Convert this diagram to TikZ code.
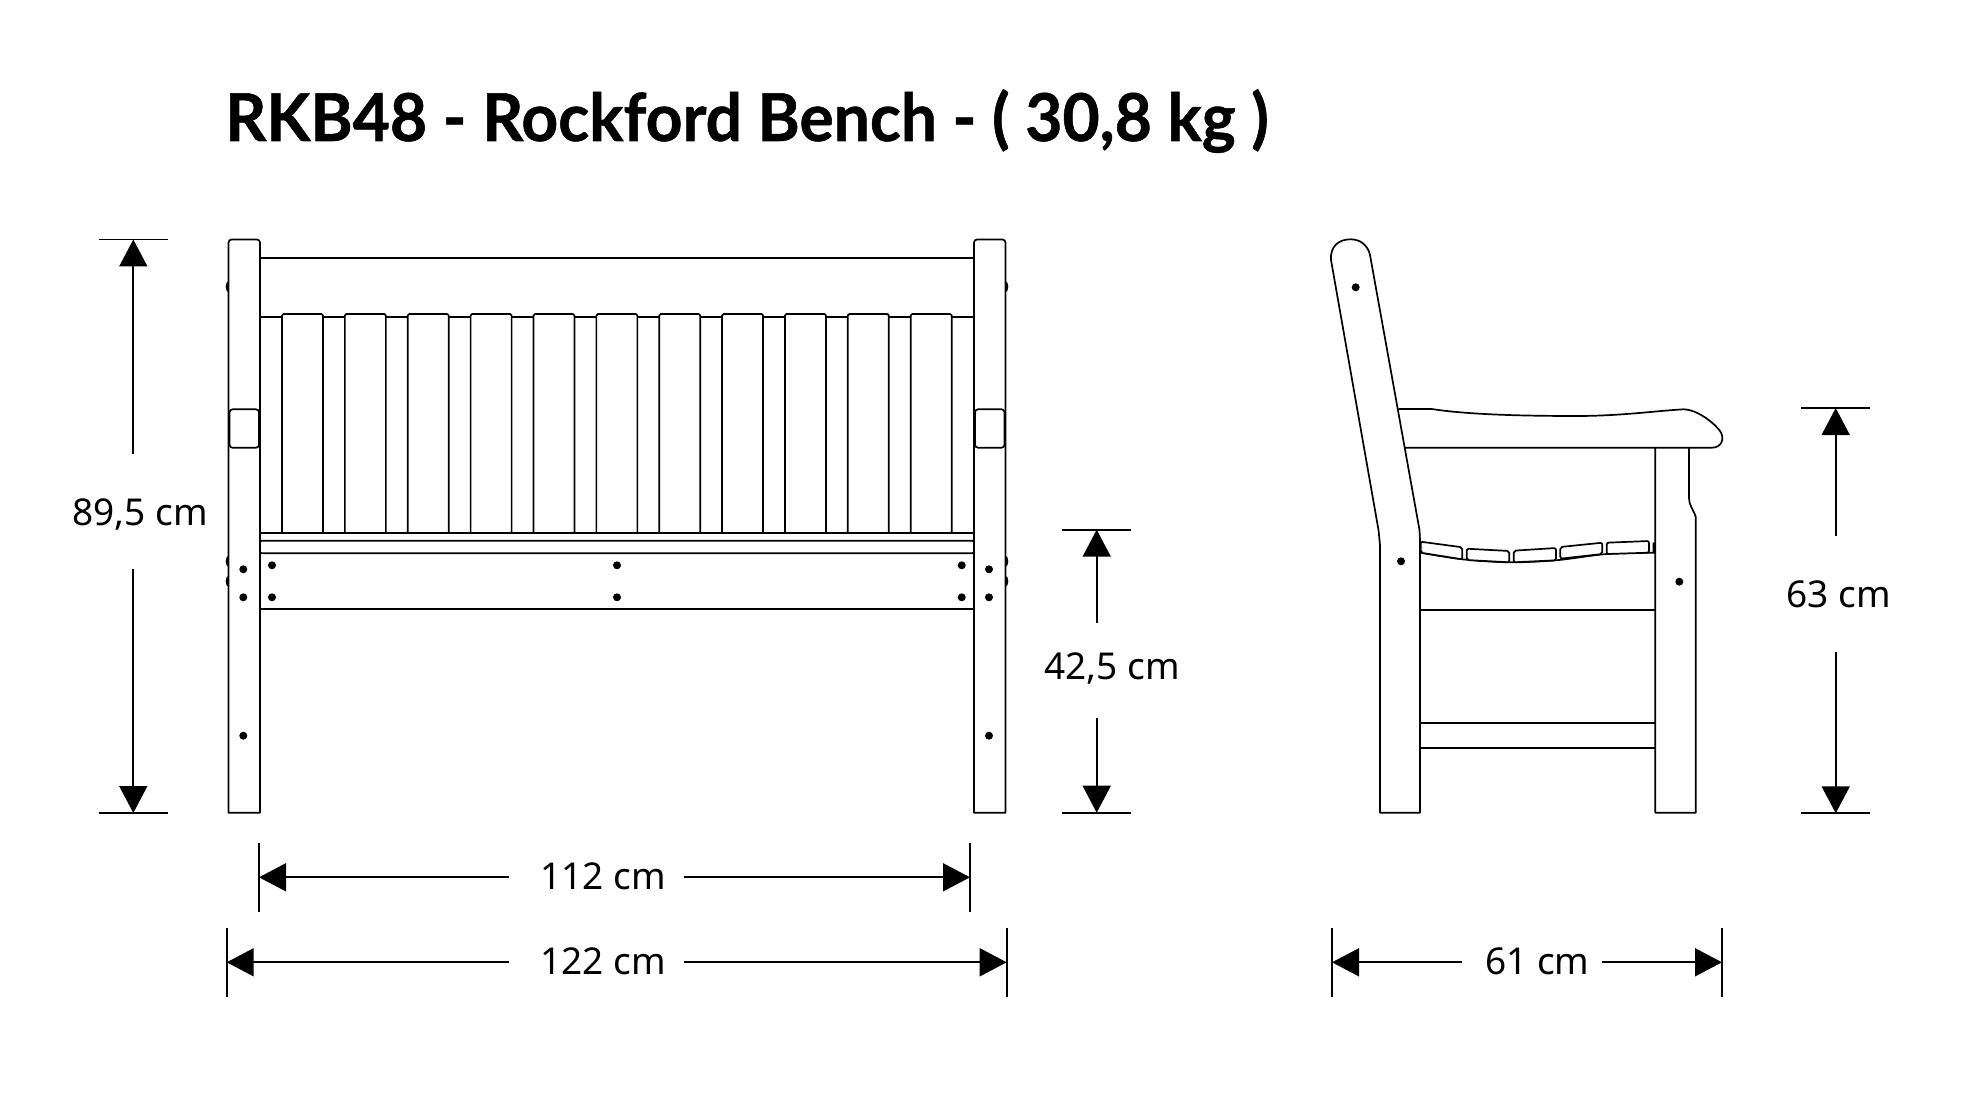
\documentclass[tikz,border=0pt]{standalone}
\usepackage{fontspec}
\setmainfont{Noto Sans}
\newfontfamily\titlefont{Lato}[FakeStretch=0.972,BoldFeatures={FakeBold=0.8}]
\usetikzlibrary{arrows.meta}
\tikzset{
    bench/.style={line width=1.7pt,black,line join=round},
    bolt/.style={fill=black},
    dimline/.style={line width=1.7pt,-{Triangle[length=27pt,width=28pt]}},
    dimtick/.style={line width=1.7pt},
    dimlabel/.style={anchor=base,inner sep=0pt,font=\fontsize{37}{40}\selectfont},
    slat/.style={bench,fill=white,rounded corners=2pt},
}
\begin{document}
\begin{tikzpicture}[x=1pt,y=-1pt]
    \useasboundingbox (0,0) rectangle (1971,1110);
    % title
    \node[anchor=base west,inner sep=0pt,font=\fontsize{66}{70}\selectfont\titlefont\bfseries] (title) at (225,141) {RKB48 - Rockford Bench - ( 30,8 kg )};
    % front view
    \foreach \px in {228.5,1005.5} \foreach \py in {286.7,561.3,581.3}
        \fill (\px,\py) ellipse (2.8 and 5.5);
    \draw[bench,fill=white] (228.5,812.7) [rounded corners=3pt] -- (228.5,239.5) -- (260,239.5) [sharp corners] -- (260,812.7) -- cycle;
    \draw[bench,fill=white] (974,812.7) [rounded corners=3pt] -- (974,239.5) -- (1005.5,239.5) [sharp corners] -- (1005.5,812.7) -- cycle;
    \draw[bench,rounded corners=3pt] (229.5,409.3) rectangle (259,447.7);
    \draw[bench,rounded corners=3pt] (975,409.3) rectangle (1004.5,447.7);
    \draw[bench] (260,257.7) -- (974,257.7);
    \draw[bench] (260,317.3) -- (974,317.3);
    \foreach \sx in {0,...,10}
        \draw[bench,fill=white] ({282+62.87*\sx},532.7) [rounded corners=1.5pt] -- ({282+62.87*\sx},314) -- ({323+62.87*\sx},314) [sharp corners] -- ({323+62.87*\sx},532.7);
    \draw[bench] (260,532.7) -- (974,532.7);
    \draw[bench,rounded corners=2pt] (260,540.7) rectangle (974,553.3);
    \draw[bench] (260,609.3) -- (974,609.3);
    \foreach \bx/\by in {243.3/569.3,243.3/597.3,243.3/735.7,272/565.3,272/597.3,617/565.3,617/597.3,961.7/565.3,961.7/597.3,989/569.3,989/597.3,989/735.7}
        \fill[bolt] (\bx,\by) circle (4);
    % side view
    \draw[bench] (1331,260) .. controls (1330,247) and (1338,239.3) .. (1350.7,239.3) .. controls (1361,239.3) and (1368,246) .. (1370,255) -- (1419.5,530) -- (1420,540) -- (1420,812.7) -- (1380,812.7) -- (1380,545) -- (1378.5,530) -- cycle;
    \draw[bench] (1398.3,409) -- (1431.7,409) .. controls (1470,415) and (1530,416) .. (1576.7,416) .. controls (1620,416) and (1655,411) .. (1683.3,409.3) .. controls (1698,409.5) and (1715,424) .. (1720,431) .. controls (1725,438) and (1722,447.7) .. (1712,447.7) -- (1405,447.7);
    \draw[bench] (1655.3,447.7) -- (1655.3,812.7) -- (1695.7,812.7) -- (1695.7,516.7) .. controls (1693,509) and (1689,505) .. (1689,498.3) -- (1689,447.7);
    \draw[bench] (1420,610) -- (1655.3,610);
    \draw[bench] (1420,723.3) -- (1655.3,723.3);
    \draw[bench] (1420,747.7) -- (1655.3,747.7);
    \draw[bench] plot[smooth] coordinates {(1420.7,552.7) (1462.3,559.3) (1509.3,562.3) (1556,560.3) (1606.7,554) (1655.3,552.7)};
    \draw[slat] (1420.7,541.7) -- (1462.3,547.3) -- (1462.3,559.3) -- (1420.7,552.7) -- cycle;
    \draw[slat] (1466.7,548.7) -- (1509.3,551) -- (1509.3,562.3) -- (1466.7,560) -- cycle;
    \draw[slat] (1513.7,550.7) -- (1556,548) -- (1556,560.3) -- (1513.7,562.3) -- cycle;
    \draw[slat] (1560.3,547) -- (1602.3,542.7) -- (1602.3,554) -- (1560.3,558.7) -- cycle;
    \draw[slat] (1606.7,542.7) -- (1649,541) -- (1649,552.7) -- (1606.7,554) -- cycle;
    \fill[rounded corners=1pt] (1652.5,542.3) rectangle (1655.3,553.3);
    \foreach \bx/\by in {1355.7/287.3,1401/561.3,1679.3/581.7}
        \fill[bolt] (\bx,\by) circle (4);
    % height overall
    \node[dimlabel] (hall) at (140,525) {89,5 cm};
    \coordinate (hallt) at (133.3,239.5);
    \coordinate (hallb) at (133.3,813);
    \coordinate (hallu) at (133.3,454);
    \coordinate (halld) at (133.3,569);
    \draw[dimtick] (99,239.5) -- (167.7,239.5) (99,813) -- (167.7,813);
    \draw[dimline] (hallu) -- (hallt);
    \draw[dimline] (halld) -- (hallb);
    % seat height
    \node[dimlabel] (hseat) at (1112.3,679.3) {42,5 cm};
    \coordinate (hseatt) at (1096.7,529.7);
    \coordinate (hseatb) at (1096.7,812.7);
    \coordinate (hseatu) at (1096.7,622.7);
    \coordinate (hseatd) at (1096.7,718.3);
    \draw[dimtick] (1062,529.7) -- (1131,529.7) (1062,812.7) -- (1131,812.7);
    \draw[dimline] (hseatu) -- (hseatt);
    \draw[dimline] (hseatd) -- (hseatb);
    % arm height
    \node[dimlabel] (harm) at (1838.8,607.3) {63 cm};
    \coordinate (harmt) at (1835.7,408);
    \coordinate (harmb) at (1835.7,813.3);
    \coordinate (harmu) at (1835.7,535.7);
    \coordinate (harmd) at (1835.7,652);
    \draw[dimtick] (1801.3,408) -- (1870,408) (1801.3,813.3) -- (1870,813.3);
    \draw[dimline] (harmu) -- (harmt);
    \draw[dimline] (harmd) -- (harmb);
    % inner width
    \node[dimlabel] (winner) at (603,889.3) {112 cm};
    \coordinate (winnerl) at (259,877.3);
    \coordinate (winnerr) at (970,877.3);
    \coordinate (winnera) at (509.3,877.3);
    \coordinate (winnerb) at (684,877.3);
    \draw[dimtick] (259,843.3) -- (259,911.7) (970,843.3) -- (970,911.7);
    \draw[dimline] (winnera) -- (winnerl);
    \draw[dimline] (winnerb) -- (winnerr);
    % outer width
    \node[dimlabel] (wouter) at (603,974.3) {122 cm};
    \coordinate (wouterl) at (226.7,962.3);
    \coordinate (wouterr) at (1006.7,962.3);
    \coordinate (woutera) at (509.3,962.3);
    \coordinate (wouterb) at (684,962.3);
    \draw[dimtick] (226.7,928.3) -- (226.7,996.7) (1006.7,928.3) -- (1006.7,996.7);
    \draw[dimline] (woutera) -- (wouterl);
    \draw[dimline] (wouterb) -- (wouterr);
    % depth
    \node[dimlabel] (wdepth) at (1537.2,974.3) {61 cm};
    \coordinate (wdepthl) at (1332,962.3);
    \coordinate (wdepthr) at (1722,962.3);
    \coordinate (wdeptha) at (1462.3,962.3);
    \coordinate (wdepthb) at (1602.3,962.3);
    \draw[dimtick] (1332,928.3) -- (1332,996.7) (1722,928.3) -- (1722,996.7);
    \draw[dimline] (wdeptha) -- (wdepthl);
    \draw[dimline] (wdepthb) -- (wdepthr);
\end{tikzpicture}
\end{document}
